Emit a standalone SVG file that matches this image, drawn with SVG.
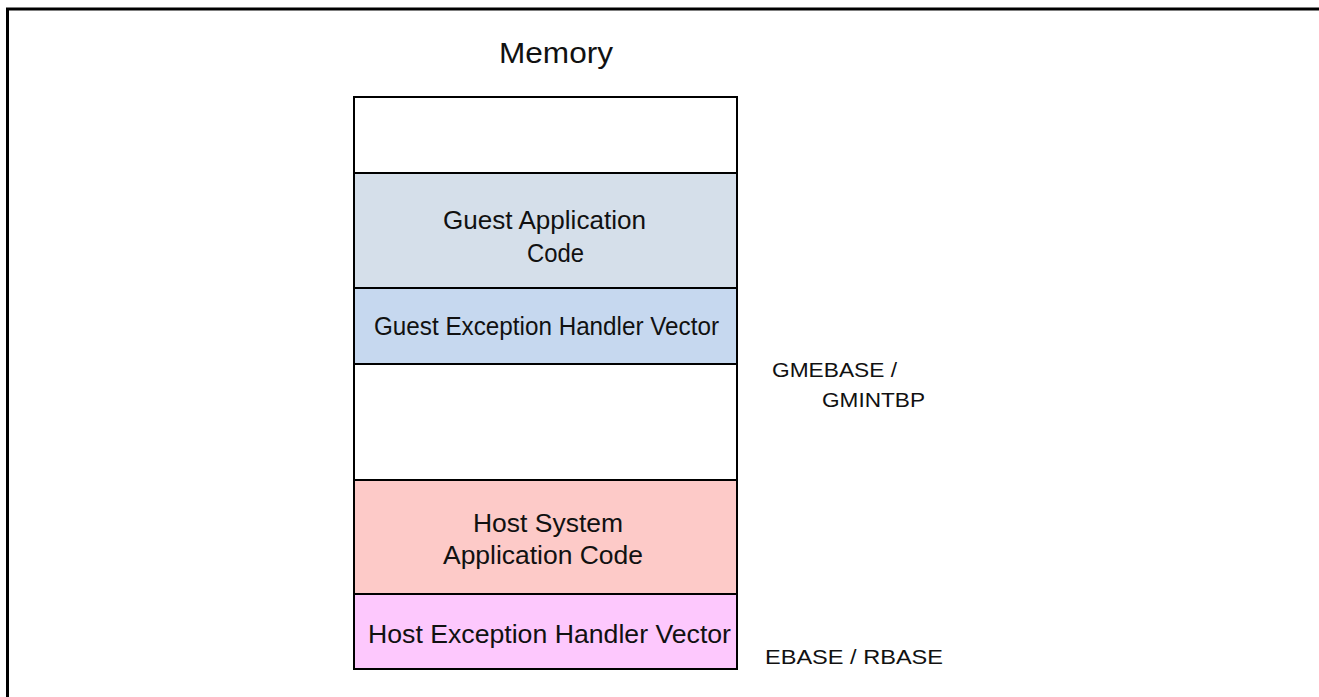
<svg xmlns="http://www.w3.org/2000/svg" width="1319" height="697" viewBox="0 0 1319 697">
<style>
  .blk { stroke: #000; stroke-width: 2; }
  .t { font-family: "Liberation Sans", Arial, sans-serif; fill: #111; }
  .lbl { font-size: 25px; }
  .side { font-size: 21px; }
</style>
<rect x="0" y="0" width="1319" height="697" fill="#fff"/>
<path d="M7.5 697 V9 H1319" fill="none" stroke="#000" stroke-width="3"/>
<g id="title"><text class="t" x="499" y="63" font-size="29" textLength="114" lengthAdjust="spacingAndGlyphs">Memory</text></g>
<g id="free-top"><rect class="blk" x="354" y="97" width="383" height="76" fill="#fff"/></g>
<g id="guest-app"><rect class="blk" x="354" y="173" width="383" height="115" fill="#D5DFEA"/>
  <text class="t lbl" x="443" y="229" textLength="203" lengthAdjust="spacingAndGlyphs">Guest Application</text>
  <text class="t lbl" x="527" y="262" textLength="57" lengthAdjust="spacingAndGlyphs">Code</text></g>
<g id="guest-exc"><rect class="blk" x="354" y="288" width="383" height="76" fill="#C6D8EF"/>
  <text class="t lbl" x="374" y="335" textLength="345" lengthAdjust="spacingAndGlyphs">Guest Exception Handler Vector</text></g>
<g id="free-mid"><rect class="blk" x="354" y="364" width="383" height="116" fill="#fff"/></g>
<g id="host-app"><rect class="blk" x="354" y="480" width="383" height="114" fill="#FDCAC8"/>
  <text class="t lbl" x="473" y="532" textLength="150" lengthAdjust="spacingAndGlyphs">Host System</text>
  <text class="t lbl" x="443" y="564" textLength="200" lengthAdjust="spacingAndGlyphs">Application Code</text></g>
<g id="host-exc"><rect class="blk" x="354" y="594" width="383" height="75" fill="#FDC8FD"/>
  <text class="t lbl" x="368" y="643" textLength="363" lengthAdjust="spacingAndGlyphs">Host Exception Handler Vector</text></g>
<g id="gmebase"><text class="t side" x="772" y="377" textLength="125" lengthAdjust="spacingAndGlyphs">GMEBASE /</text>
  <text class="t side" x="822" y="407" textLength="103" lengthAdjust="spacingAndGlyphs">GMINTBP</text></g>
<g id="ebase"><text class="t side" x="765" y="664" textLength="178" lengthAdjust="spacingAndGlyphs">EBASE / RBASE</text></g>
<g id="connectors"></g>
</svg>
